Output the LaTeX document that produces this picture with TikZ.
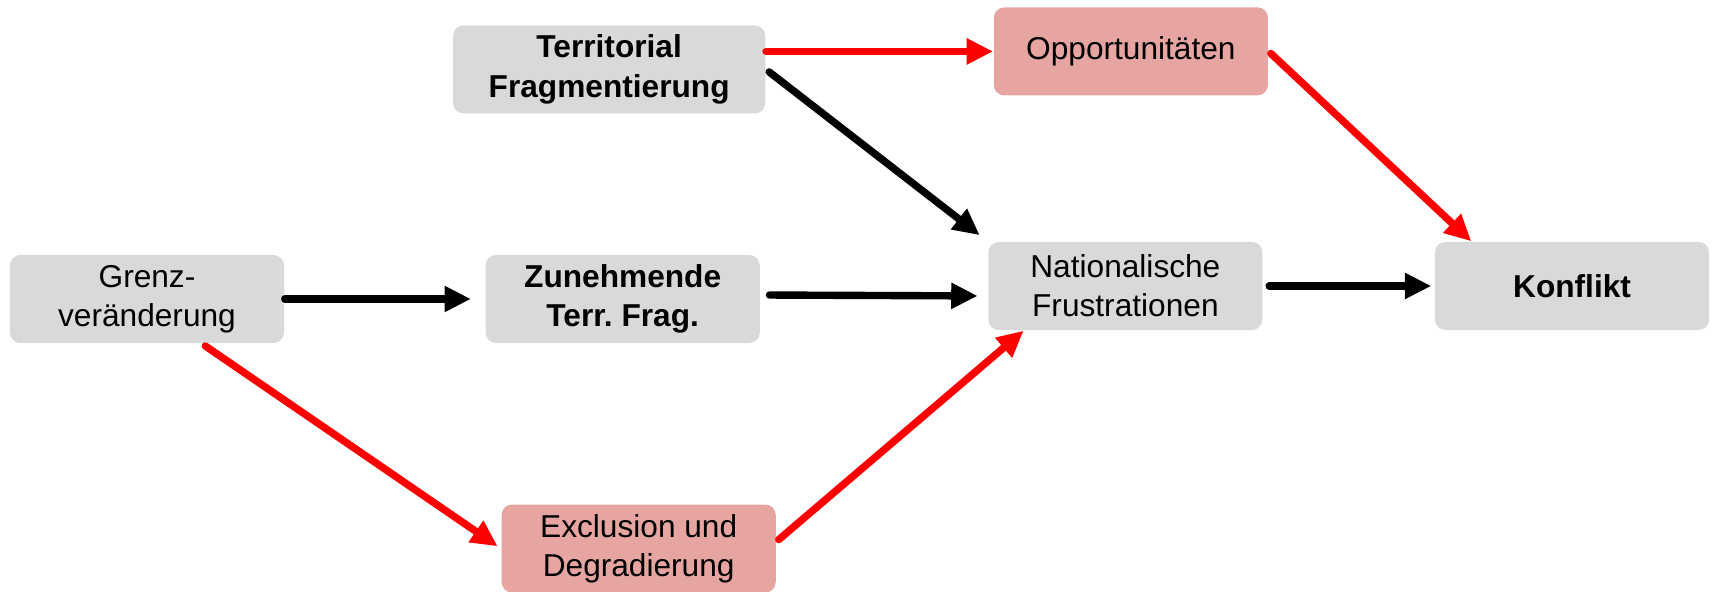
\documentclass[tikz,border=0pt]{standalone}
\usepackage{fontspec}
\setmainfont{Liberation Sans}
\usetikzlibrary{arrows.meta, positioning, calc}
\definecolor{boxgray}{HTML}{D9D9D9}
\definecolor{boxred}{HTML}{E6A5A1}
\definecolor{linered}{HTML}{FF0000}

\begin{document}
\begin{tikzpicture}[
        x=0.01cm, y=-0.01cm,
        font=\fontsize{9pt}{11.2pt}\selectfont,
        box/.style={rectangle, fill=boxgray, rounded corners=3pt, align=center, minimum width=2.74cm, minimum height=0.88cm, inner sep=2pt},
        redbox/.style={box, fill=boxred},
        arr/.style={-{Triangle[length=7.5pt, width=7pt]}, line width=2.1pt, line cap=round, black},
        redarr/.style={arr, linered}
    ]
    \useasboundingbox (0,0) rectangle (1714,592);

    % --- Middle row ---
    \node (grenz) [box] at (147,299) {Grenz-\\veränderung};
    \node (zun) [box, right=2.0cm of grenz] {\bfseries Zunehmende\\\bfseries Terr.\ Frag.};
    \node (nat) [box, right=2.27cm of zun, yshift=0.13cm] {Nationalische\\Frustrationen};
    \node (konf) [box, right=1.71cm of nat] {\bfseries Konflikt};

    % --- Upper and lower row ---
    \node (terr) [box, minimum width=3.12cm, above=1.40cm of zun, xshift=-0.135cm] {\bfseries Territorial\\\bfseries Fragmentierung};
    \node (opp) [redbox, right=2.27cm of terr, yshift=0.18cm] {Opportunitäten};
    \node (excl) [redbox, below=1.6cm of zun, xshift=0.16cm] {Exclusion und\\Degradierung};

    % --- Black paths ---
    \draw[arr, shorten >=0.14cm] (grenz.east) -- (zun.west);
    \draw[arr, shorten <=0.09cm, shorten >=0.1cm] ($(zun.east)+(0,-4)$) -- ($(nat.west)+(0,10)$);
    \draw[arr, shorten <=0.06cm, shorten >=0.03cm] (nat.east) -- (konf.west);
    \draw[arr, shorten <=0.04cm, shorten >=0.1cm] (terr.east) -- (nat.north west);

    % --- Red paths ---
    \draw[redarr] (terr.east |- opp) -- (opp.west);
    \draw[redarr, shorten <=0.03cm] (opp.east) -- ($(konf.north west)+(37,0)$);
    \draw[redarr, shorten <=0.04cm, shorten >=0.04cm] ($(grenz.south)+(55,0)$) -- (excl.west);
    \draw[redarr, shorten <=0.03cm] ($(excl.east)+(0,-7)$) -- ($(nat.south west)+(36,0)$);

\end{tikzpicture}
\end{document}
